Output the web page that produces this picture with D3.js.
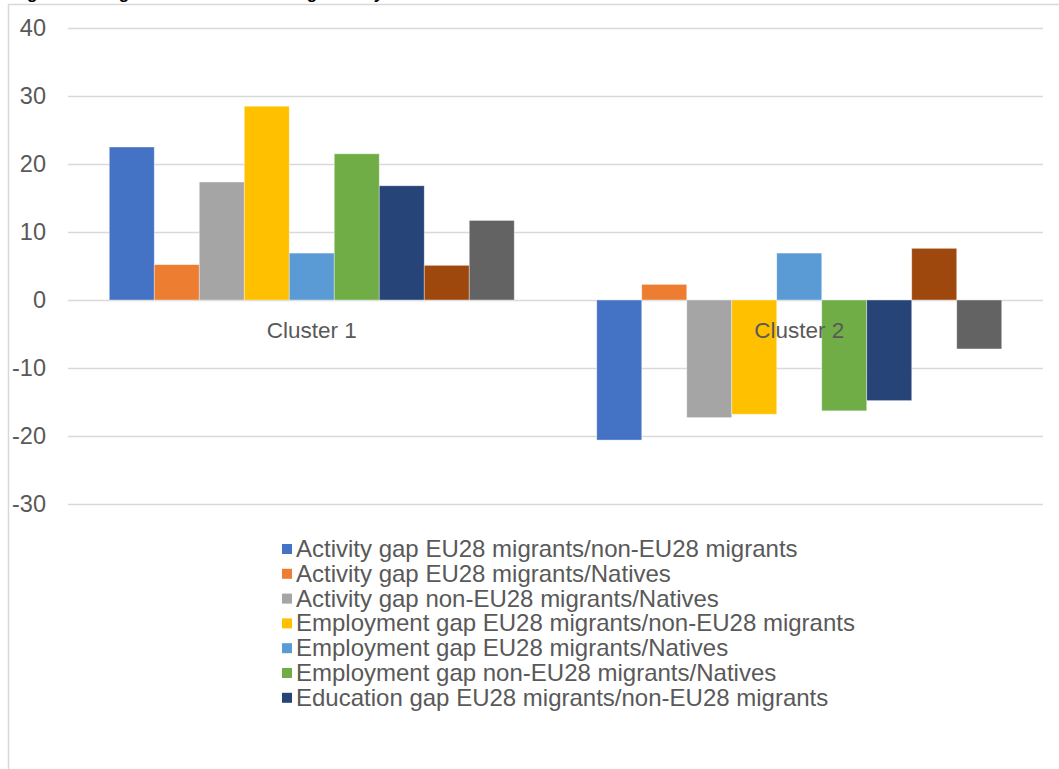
<!DOCTYPE html>
<html>
<head>
<meta charset="utf-8">
<script src="https://cdn.jsdelivr.net/npm/d3@7"></script>
<style>
  body { margin: 0; background: #fff; }
  text { font-family: "Liberation Sans", Arial, sans-serif; }
</style>
</head>
<body>
<div id="chart"></div>
<script>
let w = 1059,
    h = 769

// data
let clusters = ['Cluster 1', 'Cluster 2']
let seriesNames = [
    'Activity gap EU28 migrants/non-EU28 migrants',
    'Activity gap EU28 migrants/Natives',
    'Activity gap non-EU28 migrants/Natives',
    'Employment gap EU28 migrants/non-EU28 migrants',
    'Employment gap EU28 migrants/Natives',
    'Employment gap non-EU28 migrants/Natives',
    'Education gap EU28 migrants/non-EU28 migrants',
    'Education gap EU28 migrants/Natives',
    'Education gap non-EU28 migrants/Natives'
]
let cluster1 = [22.5, 5.2, 17.35, 28.5, 6.9, 21.5, 16.8, 5.1, 11.7]
let cluster2 = [-20.6, 2.3, -17.3, -16.8, 6.9, -16.3, -14.8, 7.6, -7.2]
let colors = ['#4472c4', '#ed7d31', '#a5a5a5', '#ffc000', '#5b9bd5', '#70ad47', '#264478', '#9e480e', '#636363']
let yTicks = [-30, -20, -10, 0, 10, 20, 30, 40]
let legendShown = 7 // the rest of the legend does not fit in the frame

let values = [cluster1, cluster2]

let svg = d3.select('#chart')
    .append('svg')
    .attr('width', w)
    .attr('height', h)

// chart frame (title is cut off above)
svg.append('text')
    .text('Figure 4: Integration outcomes of migrants by cluster')
    .attr('x', 12)
    .attr('y', -1)
    .attr('font-size', 17)
    .attr('font-weight', 'bold')
    .attr('fill', '#000')
svg.append('rect')
    .attr('x', 8.5)
    .attr('y', 4.5)
    .attr('width', 1100)
    .attr('height', 800)
    .attr('fill', '#fff')
    .attr('stroke', '#d9d9d9')
    .attr('stroke-width', 1.5)

let x0 = d3.scaleBand()
    .domain(clusters)
    .range([68, 1043])

let x1 = d3.scaleBand()
    .domain(d3.range(seriesNames.length))
    .range([0, x0.bandwidth()])
    .paddingOuter(0.917)

let y = d3.scaleLinear()
    .domain([-30, 40])
    .range([504, 28])

// gridlines
svg.append('g')
    .selectAll('line')
    .data(yTicks)
    .enter()
    .append('line')
    .attr('x1', 68)
    .attr('x2', 1043)
    .attr('y1', d => Math.round(y(d)) + 0.5)
    .attr('y2', d => Math.round(y(d)) + 0.5)
    .attr('stroke', '#d9d9d9')
    .attr('stroke-width', 1.5)

// y labels
let yAxis = d3.axisLeft(y).tickValues(yTicks).tickFormat(d => String(d)).tickSize(0).tickPadding(0)
let yG = svg.append('g')
    .attr('transform', 'translate(46,0)')
    .call(yAxis)
yG.select('.domain').remove()
yG.selectAll('text')
    .attr('font-family', '"Liberation Sans", Arial, sans-serif')
    .attr('font-size', 23.5)
    .attr('fill', '#595959')

// bars
let groups = svg.selectAll('g.cluster')
    .data(clusters)
    .enter()
    .append('g')
    .attr('class', 'cluster')
    .attr('transform', d => `translate(${x0(d)},0)`)

groups.selectAll('rect')
    .data((d, ci) => values[ci].map((v, i) => ({ v, i })))
    .enter()
    .append('rect')
    .attr('x', d => x1(d.i))
    .attr('width', x1.bandwidth())
    .attr('y', d => y(Math.max(0, d.v)))
    .attr('height', d => Math.abs(y(d.v) - y(0)))
    .attr('fill', d => colors[d.i])
    .attr('stroke', '#fff')
    .attr('stroke-opacity', 0.5)
    .attr('stroke-width', 0.75)

// category labels (drawn at zero line)
svg.selectAll('text.cat')
    .data(clusters)
    .enter()
    .append('text')
    .attr('class', 'cat')
    .text(d => d)
    .attr('x', d => x0(d) + x0.bandwidth() / 2)
    .attr('y', 338)
    .attr('text-anchor', 'middle')
    .attr('font-size', 22.5)
    .attr('fill', '#595959')

// legend
let legend = svg.append('g')
    .selectAll('g')
    .data(seriesNames.slice(0, legendShown))
    .enter()
    .append('g')
    .attr('transform', (d, i) => `translate(282,${549 + i * 24.8})`)

legend.append('rect')
    .attr('x', 0)
    .attr('y', -5)
    .attr('width', 10)
    .attr('height', 10)
    .attr('fill', (d, i) => colors[i])

legend.append('text')
    .text(d => d)
    .attr('x', 14)
    .attr('y', 8)
    .attr('font-size', 24)
    .attr('fill', '#595959')
</script>
</body>
</html>
